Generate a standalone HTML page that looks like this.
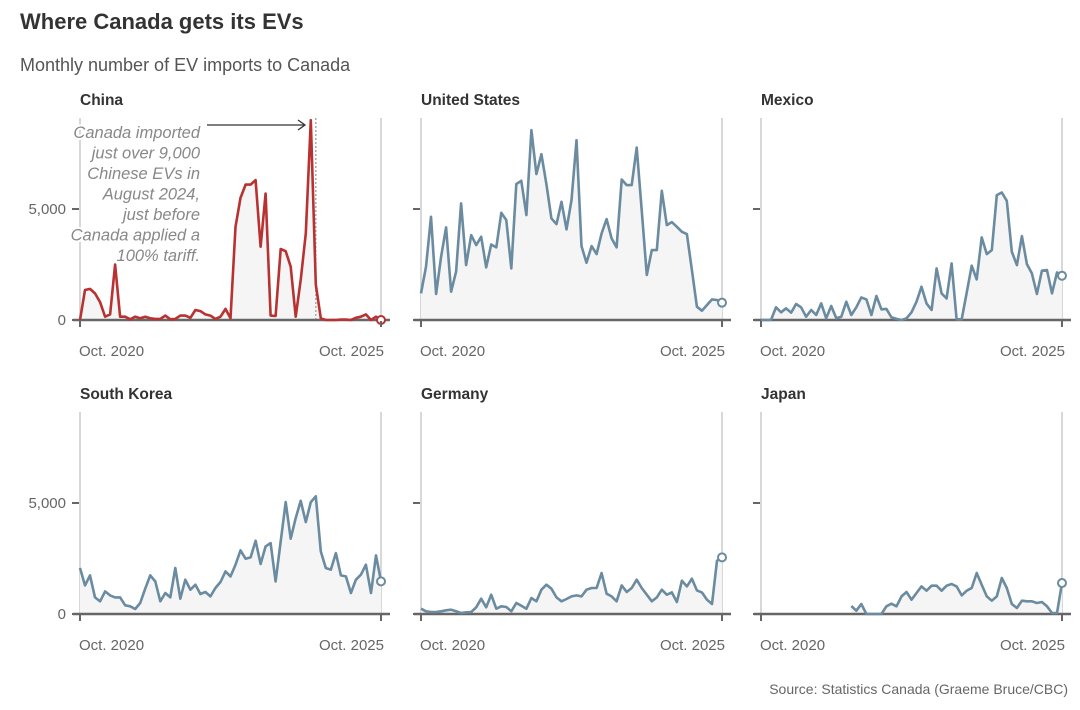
<!DOCTYPE html>
<html><head><meta charset="utf-8"><style>
html,body{margin:0;padding:0;background:#fff;}
svg{display:block;font-family:"Liberation Sans",sans-serif;}
</style></head><body>
<svg id="chart" width="1080" height="710" viewBox="0 0 1080 710" xmlns="http://www.w3.org/2000/svg">
<text x="20" y="29" font-size="22" font-weight="bold" fill="#333">Where Canada gets its EVs</text>
<text x="20" y="71" font-size="18" fill="#555">Monthly number of EV imports to Canada</text>
<text x="1068" y="694" font-size="14" fill="#666" text-anchor="end">Source: Statistics Canada (Graeme Bruce/CBC)</text>
<g id="panels"></g>
</svg>
<script>
const countries = ["China","United States","Mexico","South Korea","Germany","Japan"];
const xTickLabels = ["Oct. 2020","Oct. 2025"];
const yTickValues = [0,5000];
const yTickLabels = ["0","5,000"];
const china = [0,1350,1400,1200,800,150,250,2500,150,150,30,150,75,150,75,50,50,200,30,50,200,200,100,450,400,250,200,50,150,500,75,4200,5500,6100,6100,6300,3300,5700,200,180,3200,3100,2400,150,1800,3900,9000,1600,75,0,0,0,20,20,0,100,150,250,0,150,0];
const unitedStates = [1200,2400,4650,1170,2850,4170,1275,2175,5250,2475,3825,3375,3750,2370,3400,3270,4830,4500,2325,6120,6270,4725,8550,6570,7470,6120,4575,4320,5325,4080,5400,8100,3330,2580,3330,2970,3900,4545,3675,3270,6330,6075,6075,7770,4950,2025,3150,3150,5820,4275,4410,4200,3975,3870,2250,600,420,675,930,900,780];
const mexico = [0,0,0,570,345,525,330,720,570,150,450,225,750,75,630,75,150,825,225,570,1020,930,225,1080,480,500,120,50,0,75,345,825,1500,750,450,2325,1200,975,2550,30,30,1230,2445,1830,3720,2970,3150,5625,5745,5370,3075,2475,3780,2520,2100,1170,2220,2250,1200,2145,1995];
const southKorea = [2070,1290,1740,750,570,1020,840,750,750,390,345,225,495,1140,1740,1470,570,945,750,2070,690,1545,1095,1320,900,990,795,1170,1440,1920,1695,2220,2865,2490,2550,3300,2250,3045,3195,1470,3270,5040,3390,4320,5100,4140,5040,5300,2820,2070,1995,2745,1740,1695,945,1545,1770,2220,945,2640,1470];
const germany = [240,120,90,90,120,165,195,120,45,75,90,300,690,300,870,240,345,315,120,495,375,240,720,570,1095,1320,1140,750,570,675,795,840,795,1095,1170,1170,1845,915,795,570,1290,990,1170,1545,1170,870,570,750,1095,870,975,540,1500,1245,1590,1065,975,645,450,2400,2550];
const japan = [null,null,null,null,null,null,null,null,null,null,null,null,null,null,null,null,null,null,360,150,450,0,0,0,0,345,465,345,795,990,645,945,1245,1050,1275,1275,1050,1275,1350,1245,840,1050,1170,1845,1320,795,600,795,1620,1170,450,270,600,570,570,495,540,345,45,45,1395];
const annotationLines = ["Canada imported","just over 9,000","Chinese EVs in","August 2024,","just before","Canada applied a","100% tariff."];

const NS="http://www.w3.org/2000/svg";
const seriesList=[china,unitedStates,mexico,southKorea,germany,japan];
const colX=[80,421,761], rowBase=[320,614], W=301, H=202;
const pxPer=111/5000;
function mk(tag,attrs,parent){const e=document.createElementNS(NS,tag);for(const k in attrs)e.setAttribute(k,attrs[k]);parent.appendChild(e);return e;}
const root=document.getElementById('panels');
seriesList.forEach((data,i)=>{
  const x0=colX[i%3], base=rowBase[Math.floor(i/3)], top=base-H;
  const n=data.length;
  const xs=m=>x0+m*W/(n-1);
  const ys=v=>base-v*pxPer;
  const g=mk('g',{},root);
  
  
  const t=mk('text',{x:x0,y:top-13,'font-size':15.5,'font-weight':'bold',fill:'#333'},g);
  
  
  t.textContent=countries[i];
  [x0,x0+W].forEach(gx=>{const l=mk('line',{x1:gx,x2:gx,y1:top,y2:base,stroke:'#ccc','stroke-width':1.5},g);
    });
  let segs=[],cur=[];
  data.forEach((v,m)=>{if(v==null){if(cur.length)segs.push(cur);cur=[];}else cur.push([xs(m),ys(v)]);});
  if(cur.length)segs.push(cur);
  const col=i===0?'#b83232':'#6a8ba0';
  segs.forEach(s=>{
    const d=s.map((p,k)=>(k?'L':'M')+p[0].toFixed(1)+','+p[1].toFixed(1)).join('');
    const a=mk('path',{d:d+'L'+s[s.length-1][0].toFixed(1)+','+base+'L'+s[0][0].toFixed(1)+','+base+'Z',fill:'#f5f5f5'},g);
    
  });
  if(i===0){
    const dl=mk('line',{x1:xs(47),x2:xs(47),y1:top,y2:base,stroke:'#aaa','stroke-width':1.5,'stroke-dasharray':'2,2'},g);
    
  }
  const bl=mk('line',{x1:x0-7,x2:x0+W+9,y1:base,y2:base,stroke:'#666','stroke-width':2.5},g);
  
  segs.forEach(s=>{
    const d=s.map((p,k)=>(k?'L':'M')+p[0].toFixed(1)+','+p[1].toFixed(1)).join('');
    const ln=mk('path',{d:d,fill:'none',stroke:col,'stroke-width':2.6,'stroke-linejoin':'round'},g);
    
  });
  const lv=data[n-1];
  const c=mk('circle',{cx:xs(n-1),cy:ys(lv),r:4,fill:'#fff',stroke:col,'stroke-width':2},g);
  
  yTickValues.forEach((v,k)=>{
    const tk=mk('line',{x1:x0-8,x2:x0-1,y1:ys(v),y2:ys(v),stroke:'#666','stroke-width':2},g);
    
    if(i%3===0){const tl=mk('text',{x:x0-14,y:ys(v)+5,'font-size':15,fill:'#666','text-anchor':'end'},g);
      tl.textContent=yTickLabels[k];}
  });
  [0,n-1].forEach((m,k)=>{
    const tk=mk('line',{x1:xs(m),x2:xs(m),y1:base+1,y2:base+7,stroke:'#666','stroke-width':2},g);
    
    const tl=mk('text',{x:k?xs(m)+3:xs(m)-1,y:base+36,'font-size':15,fill:'#666','text-anchor':k?'end':'start'},g);
    tl.textContent=xTickLabels[k];
  });
  if(i===0){
    const ag=mk('g',{},g);
    
    annotationLines.forEach((s,k)=>{
      const at=mk('text',{x:200,y:138+k*20.5,'font-size':16.5,'font-style':'italic',fill:'#888','text-anchor':'end',stroke:'#fff','stroke-width':4,'paint-order':'stroke'},ag);
      at.textContent=s;
    });
    const ar=mk('path',{d:'M207,125 H305 M298,120 L305,125 L298,130',fill:'none',stroke:'#333','stroke-width':1.3},ag);
    
  }
});
</script>
</body></html>
